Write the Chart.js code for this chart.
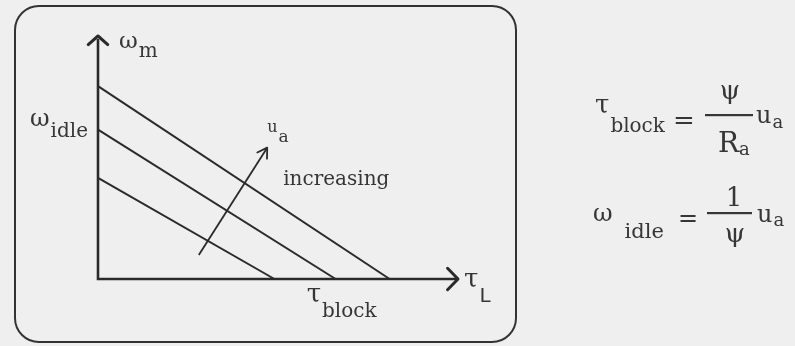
<!DOCTYPE html>
<html>
<head>
<meta charset="utf-8">
<script src="https://cdn.jsdelivr.net/npm/chart.js@4/dist/chart.umd.min.js"></script>
<style>
  html, body { margin: 0; padding: 0; background: #efefef; }
  #wrap { position: relative; width: 795px; height: 346px; }
  canvas { display: block; }
</style>
</head>
<body>
<div id="wrap"><canvas id="c" width="795" height="346"></canvas></div>
<script>
// Armature voltage levels, lowest to highest
const voltageLevels = ['u_a low', 'u_a mid', 'u_a high'];
// No-load speed (ω-axis intercept) for each level
const idleSpeeds = [4.2, 6.2, 8.0];
// Stall torque (τ-axis intercept) for each level
const blockTorques = [4.9, 6.6, 8.1];
// Level that carries the ω_idle / τ_block labels
const labelledLevel = 1;
// "u_a increasing" direction arrow, [τ, ω] of tail and head
const uaArrowTail = [2.8, 1.0];
const uaArrowHead = [4.7, 5.45];
// Axis extent, where the axis arrows end
const axisMaxTau = 10;
const axisMaxOmega = 10;

const INK = '#2a2a2a';
const TEXT = '#363636';
const SERIF = '"DejaVu Serif", "Liberation Serif", serif';

const datasets = voltageLevels.map((name, i) => ({
  label: name,
  data: [{ x: 0, y: idleSpeeds[i] }, { x: blockTorques[i], y: 0 }],
  borderColor: INK,
  borderWidth: 2,
  showLine: true,
  pointRadius: 0,
  clip: false
}));
datasets.push({
  label: 'u_a increasing',
  data: [{ x: uaArrowTail[0], y: uaArrowTail[1] }, { x: uaArrowHead[0], y: uaArrowHead[1] }],
  borderColor: INK,
  borderWidth: 1.8,
  showLine: true,
  pointRadius: 0,
  clip: false
});

function chevron(ctx, tx, ty, angle, len, spread, width) {
  ctx.save();
  ctx.strokeStyle = INK;
  ctx.lineWidth = width;
  ctx.lineCap = 'round';
  ctx.lineJoin = 'round';
  ctx.beginPath();
  ctx.moveTo(tx - len * Math.cos(angle - spread), ty - len * Math.sin(angle - spread));
  ctx.lineTo(tx, ty);
  ctx.lineTo(tx - len * Math.cos(angle + spread), ty - len * Math.sin(angle + spread));
  ctx.stroke();
  ctx.restore();
}

// Symbol followed by a subscript; sizes in px, drop = subscript baseline shift
function withSub(ctx, base, sub, x, y, baseSize, subSize, drop, gap, subFamily) {
  ctx.font = baseSize + 'px ' + SERIF;
  ctx.fillText(base, x, y);
  const w = ctx.measureText(base).width;
  ctx.font = subSize + 'px ' + (subFamily || SERIF);
  ctx.fillText(sub, x + w + gap, y + drop);
  return w + gap + ctx.measureText(sub).width;
}
function measureSub(ctx, base, sub, baseSize, subSize, gap, subFamily) {
  ctx.font = baseSize + 'px ' + SERIF;
  const w = ctx.measureText(base).width;
  ctx.font = subSize + 'px ' + (subFamily || SERIF);
  return w + gap + ctx.measureText(sub).width;
}
function centred(ctx, text, cx, y, size) {
  ctx.save();
  ctx.font = size + 'px ' + SERIF;
  ctx.textAlign = 'center';
  ctx.fillText(text, cx, y);
  ctx.restore();
}

const diagramPlugin = {
  id: 'motorDiagram',
  beforeDraw(chart) {
    const ctx = chart.ctx;
    ctx.save();
    ctx.fillStyle = '#efefef';
    ctx.fillRect(0, 0, chart.width, chart.height);
    // rounded frame round the plot
    ctx.strokeStyle = '#333';
    ctx.lineWidth = 2;
    ctx.beginPath();
    ctx.roundRect(15, 6, 501, 336, 24);
    ctx.stroke();
    ctx.restore();
  },
  afterDatasetsDraw(chart) {
    const ctx = chart.ctx;
    const xs = chart.scales.x, ys = chart.scales.y;
    const x0 = xs.getPixelForValue(0), y0 = ys.getPixelForValue(0);
    const xEnd = xs.getPixelForValue(axisMaxTau), yEnd = ys.getPixelForValue(axisMaxOmega);
    ctx.save();
    // axes
    ctx.strokeStyle = INK;
    ctx.lineWidth = 2.6;
    ctx.beginPath();
    ctx.moveTo(x0, yEnd + 1);
    ctx.lineTo(x0, y0);
    ctx.lineTo(xEnd - 1, y0);
    ctx.stroke();
    chevron(ctx, x0, yEnd - 2, -Math.PI / 2, 13, 0.85, 3);
    chevron(ctx, xEnd, y0, 0, 15, 0.8, 3);

    // arrowhead on the u_a direction arrow
    const hx = xs.getPixelForValue(uaArrowHead[0]), hy = ys.getPixelForValue(uaArrowHead[1]);
    const tx = xs.getPixelForValue(uaArrowTail[0]), ty = ys.getPixelForValue(uaArrowTail[1]);
    chevron(ctx, hx, hy, Math.atan2(hy - ty, hx - tx), 11, 0.55, 1.8);

    ctx.fillStyle = TEXT;
    ctx.textBaseline = 'alphabetic';
    ctx.textAlign = 'left';

    // axis titles
    withSub(ctx, 'ω', 'm', x0 + 21, yEnd + 10, 23, 20, 9, 1);
    withSub(ctx, 'τ', 'L', xEnd + 6, y0 + 8, 26, 20, 15, 1, '"DejaVu Sans", sans-serif');

    // ω_idle on the ω axis, τ_block on the τ axis
    const idleY = ys.getPixelForValue(idleSpeeds[labelledLevel]);
    const wIdle = measureSub(ctx, 'ω', 'idle', 24, 20, 1);
    withSub(ctx, 'ω', 'idle', x0 - 10 - wIdle, idleY - 4, 24, 20, 11, 1);
    const blockX = xs.getPixelForValue(blockTorques[labelledLevel]);
    const wBlock = measureSub(ctx, 'τ', 'block', 26, 20, 1);
    withSub(ctx, 'τ', 'block', blockX + 6 - wBlock / 2, y0 + 23, 26, 20, 15, 1);

    // u_a increasing
    withSub(ctx, 'u', 'a', hx, hy - 16, 16, 17, 10, 1);
    ctx.font = '20px ' + SERIF;
    ctx.fillText('increasing', hx + 16, hy + 37);

    // τ_block = ψ / R_a · u_a
    withSub(ctx, 'τ', 'block', 595, 113, 26, 20, 19, 1);
    ctx.font = '26px ' + SERIF;
    ctx.fillText('=', 673, 129);
    ctx.fillRect(705, 114, 48, 2.2);
    centred(ctx, 'ψ', 730, 99, 26);
    withSub(ctx, 'R', 'a', 718, 152, 28, 18, 3, 0);
    withSub(ctx, 'u', 'a', 756, 123, 24, 18, 5, 1);

    // ω_idle = 1 / ψ · u_a
    withSub(ctx, 'ω', 'idle', 593, 221, 24, 21, 17, 12);
    ctx.font = '24px ' + SERIF;
    ctx.fillText('=', 678, 226);
    ctx.fillRect(707, 212, 45, 2.2);
    centred(ctx, '1', 734, 206, 26);
    centred(ctx, 'ψ', 735, 242, 26);
    withSub(ctx, 'u', 'a', 757, 222, 24, 18, 4, 1);
    ctx.restore();
  }
};

new Chart(document.getElementById('c'), {
  type: 'scatter',
  data: { datasets },
  options: {
    responsive: false,
    animation: false,
    events: [],
    layout: { padding: { left: 98, right: 337, top: 38, bottom: 67 } },
    scales: {
      x: { type: 'linear', min: 0, max: axisMaxTau, display: false },
      y: { type: 'linear', min: 0, max: axisMaxOmega, display: false }
    },
    plugins: { legend: { display: false }, tooltip: { enabled: false } }
  },
  plugins: [diagramPlugin]
});
</script>
</body>
</html>
